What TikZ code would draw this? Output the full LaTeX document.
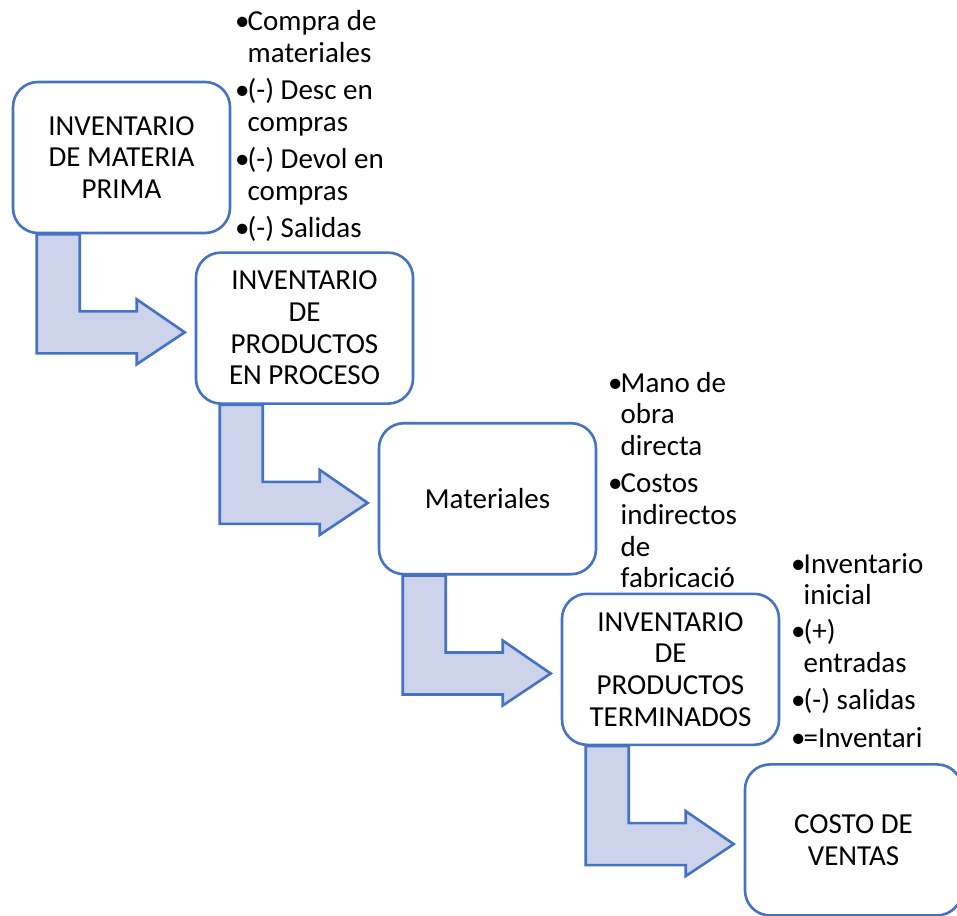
\documentclass[tikz,border=0pt]{standalone}
\usepackage{fontspec}
\setmainfont{Carlito}
\usetikzlibrary{backgrounds,calc}
\definecolor{accent}{HTML}{4472C4}
\definecolor{arrowfill}{HTML}{CDD3EA}
\newcommand{\bul}{\makebox[12.5pt][l]{•}}
\newcommand{\fsz}{\fontsize{29}{31.7}\selectfont}
\begin{document}
\begin{tikzpicture}[x=1pt,y=-1pt,
  box/.style={draw=accent, line width=2.6pt, fill=white, rounded corners=25pt,
    minimum width=217pt, minimum height=151pt, inner sep=0pt, align=center,
    font=\fsz, text=black},
  bullets/.style={anchor=base west, inner sep=0pt, font=\fsz, text=black},
  arrowstyle/.style={draw=accent, line width=2.6pt, fill=arrowfill, line join=miter},
  bentarrow/.pic={\path[arrowstyle] (25,0) -- (25,119) -- (125,119) -- (125,130)
    -- (173,98) -- (125,65) -- (125,77) -- (68,77) -- (68,0) -- cycle;}
]
\useasboundingbox (0,0) rectangle (957,915);
\clip (0,0) rectangle (957,915);

% process boxes
\node[box] (b1) at (121.5,157.5) {INVENTARIO\\DE MATERIA\\PRIMA};
\node[box] (b2) at (304.5,328.1) {INVENTARIO\\DE\\PRODUCTOS\\EN PROCESO};
\node[box] (b3) at (487.5,498.7) {Materiales};
\node[box] (b4) at (670.5,669.3) {INVENTARIO\\DE\\PRODUCTOS\\TERMINADOS};
\node[box] (b5) at (853.5,839.9) {COSTO DE\\VENTAS};

\begin{pgfonlayer}{background}
% bullet texts
\node[bullets] (t1) at (235,31) {\begin{tabular}[t]{@{}l@{}l@{}}
\bul&Compra de\\&materiales\\[5.5pt]
\bul&(-) Desc en\\&compras\\[5.5pt]
\bul&(-) Devol en\\&compras\\[5.5pt]
\bul&(-) Salidas\end{tabular}};
\node[bullets] (t2) at (608,392) {\begin{tabular}[t]{@{}l@{}l@{}}
\bul&Mano de\\&obra\\&directa\\[5.5pt]
\bul&Costos\\&indirectos\\&de\\&fabricació\end{tabular}};
\node[bullets] (t3) at (791,573) {\begin{tabular}[t]{@{}l@{}l@{}}
\bul&Inventario\\&inicial\\[4.5pt]
\bul&(+)\\&entradas\\[5.5pt]
\bul&(-) salidas\\[5.5pt]
\bul&=Inventari\end{tabular}};
% bent arrows between steps
\pic at (b1.south west) {bentarrow};
\pic at (b2.south west) {bentarrow};
\pic at (b3.south west) {bentarrow};
\pic at (b4.south west) {bentarrow};
\end{pgfonlayer}
\end{tikzpicture}
\end{document}
